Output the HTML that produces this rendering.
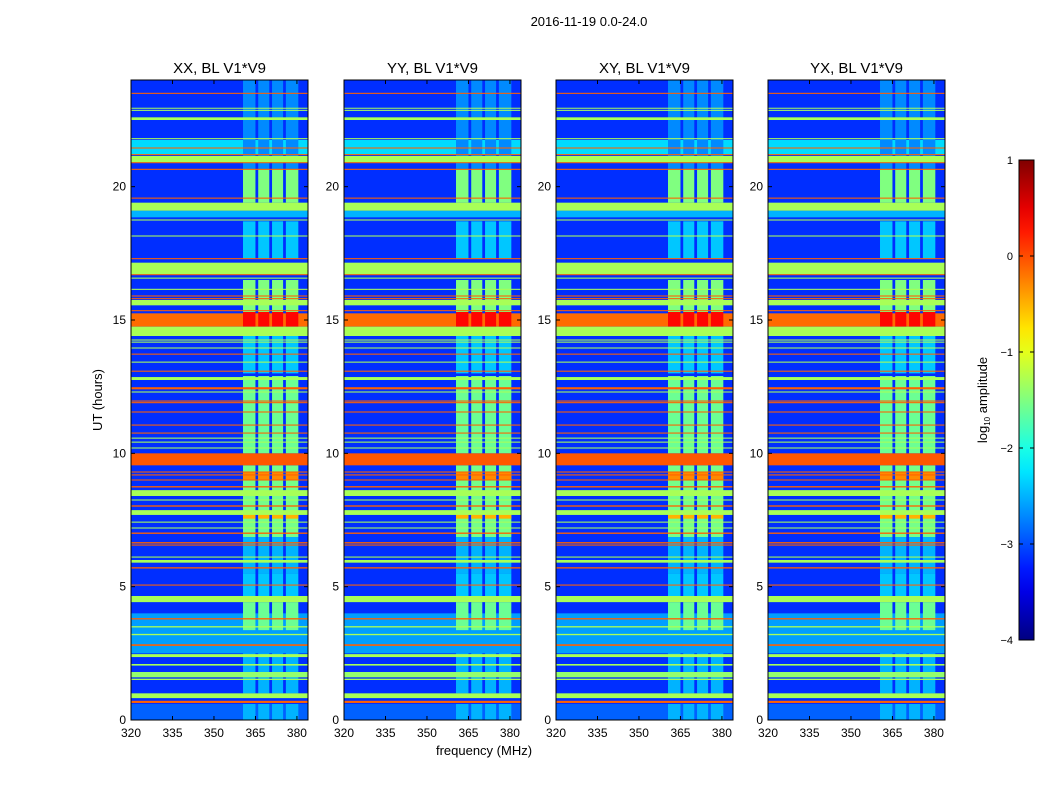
<!DOCTYPE html>
<html><head><meta charset="utf-8">
<style>
html,body{margin:0;padding:0;background:#fff;}
svg{display:block;font-family:"Liberation Sans",sans-serif;}
</style></head>
<body>
<svg id="chart" width="1050" height="800" viewBox="0 0 1050 800">
<text x="589" y="26" font-size="13" text-anchor="middle">2016-11-19 0.0-24.0</text>
<text x="484" y="755" font-size="13" text-anchor="middle">frequency (MHz)</text>
<text transform="translate(102,400) rotate(-90)" font-size="13" text-anchor="middle">UT (hours)</text>
<defs><linearGradient id="cbgrad" x1="0" y1="1" x2="0" y2="0"></linearGradient></defs>
<g id="panels"></g>
<g id="colorbar"></g>
</svg>
<script>
// ---- data (hours, MHz, log10 amplitude) ----
const panelTitles = ["XX, BL V1*V9", "YY, BL V1*V9", "XY, BL V1*V9", "YX, BL V1*V9"];
const xTicks = [320, 335, 350, 365, 380];
const yTicks = [0, 5, 10, 15, 20];
const cbTicks = [1, 0, -1, -2, -3, -4];
const backgroundLevel = -3.15;
const bandStart = [0.0,0.64,0.82,1.5,1.6,2.04,2.36,2.5,2.78,3.18,3.47,3.77,4.42,5.04,5.68,5.9,6.09,6.54,6.62,6.98,7.18,7.4,7.69,8.0,8.23,8.4,8.72,8.98,9.17,9.28,9.55,10.18,10.4,10.55,10.74,11.04,11.53,11.88,11.94,12.28,12.4,12.75,13.06,13.4,13.7,13.93,14.15,14.23,14.4,14.75,15.33,15.55,15.78,15.88,16.13,16.55,16.68,16.72,17.28,18.13,18.73,18.85,19.1,19.55,20.63,20.88,20.92,21.18,21.2,21.43,21.78,22.5,22.85,22.93,23.48];
const bandEnd   = [0.6,0.72,1.0,1.55,1.8,2.1,2.47,4.0,2.84,3.23,3.52,3.82,4.65,5.08,5.73,6.0,6.13,6.58,6.67,7.03,7.22,7.44,7.87,8.05,8.27,8.62,8.77,9.02,9.21,9.32,10.0,10.22,10.44,10.59,10.78,11.08,11.57,11.92,11.98,12.32,12.48,12.86,13.1,13.44,13.74,13.97,14.19,14.27,14.75,15.25,15.37,15.75,15.82,15.92,16.17,16.59,16.72,17.15,17.32,18.17,18.77,19.1,19.4,19.59,20.67,20.92,21.15,21.22,21.75,21.47,21.82,22.6,22.88,22.96,23.52];
const bandLevel = [-2.9,-0.1,-1.3,-1.3,-1.4,-1.3,-1.3,-2.6,-0.1,-1.3,-1.3,-0.1,-1.3,-0.1,-0.1,-1.3,-1.3,-0.1,-0.1,-0.1,-1.3,-1.3,-1.3,-0.1,-1.3,-1.3,-0.1,-0.1,-0.1,-0.1,-0.05,-1.3,-1.3,-1.3,-0.1,-0.1,-0.1,-0.1,-0.1,-1.3,-0.1,-1.3,-0.1,-1.3,-0.1,-1.3,-1.3,-1.3,-1.3,-0.15,-0.1,-1.3,-0.1,-0.1,-1.3,-1.3,-0.1,-1.3,-0.1,-1.3,-1.3,-2.5,-1.3,-0.1,-0.1,-0.1,-1.3,-0.1,-2.3,-0.1,-1.3,-1.3,-1.3,-1.3,-0.1];
const bandOnTop = [0,1,1,1,1,1,1,0,1,1,1,1,1,1,1,1,1,1,1,1,1,1,1,1,1,1,1,1,1,1,1,1,1,1,1,1,1,1,1,1,1,1,1,1,1,1,1,1,1,0,1,1,1,1,1,1,1,1,1,1,1,0,1,1,1,1,1,1,0,1,1,1,1,1,1];
const chanLo = [360.5, 366, 371, 376];
const chanHi = [365, 370, 375, 380.5];
const boostStart = [0,1.0,3.37,4.65,5.5,6.86,7.55,9.0,10.0,13.0,14.75,15.3,17.3,19.4,20.65];
const boostEnd   = [0.6,2.5,4.42,5.5,6.86,9.55,7.75,9.3,12.9,14.4,15.3,16.5,18.7,20.65,24];
const boostLevel = [-2.5,-2.5,-1.6,-2.4,-2.5,-1.55,-0.5,-0.3,-1.6,-2.4,0.35,-1.5,-2.4,-1.5,-2.7];

// ---- helpers ----
const NS = "http://www.w3.org/2000/svg";
function jet(v){
  const t = Math.max(0, Math.min(1, (v + 4) / 5));
  const c = x => Math.round(255 * Math.max(0, Math.min(1, x)));
  return `rgb(${c(1.5-Math.abs(4*t-3))},${c(1.5-Math.abs(4*t-2))},${c(1.5-Math.abs(4*t-1))})`;
}
function mk(tag, attrs, parent){
  const e = document.createElementNS(NS, tag);
  for (const k in attrs) e.setAttribute(k, attrs[k]);
  parent.appendChild(e); return e;
}
const panelLefts = [131, 344, 556, 768];
const pw = 177, axTop = 80, axBottom = 720;
const fMin = 320, fMax = 384, hMax = 24;
const panelsG = document.getElementById("panels");

panelLefts.forEach((left, p) => {
  const xs = f => left + (f - fMin) / (fMax - fMin) * pw;
  const ys = h => axBottom - h / hMax * (axBottom - axTop);
  const g = mk("g", {}, panelsG);
  
  
  const bg = mk("rect", {x: left, y: axTop, width: pw, height: axBottom - axTop, fill: jet(backgroundLevel)}, g);
  
  
  const drawBands = onTop => {
    for (let i = 0; i < bandStart.length; i++) {
      if (bandOnTop[i] !== onTop) continue;
      const r = mk("rect", {x: left, y: ys(bandEnd[i]), width: pw, height: Math.max(1, ys(bandStart[i]) - ys(bandEnd[i])), fill: jet(bandLevel[i])}, g);
      
      
    }
  };
  drawBands(0);
  for (let i = 0; i < boostStart.length; i++) {
    for (let c = 0; c < chanLo.length; c++) {
      const r = mk("rect", {x: xs(chanLo[c]), y: ys(boostEnd[i]), width: xs(chanHi[c]) - xs(chanLo[c]), height: ys(boostStart[i]) - ys(boostEnd[i]), fill: jet(boostLevel[i])}, g);
      
      
    }
  }
  drawBands(1);
  const frame = mk("rect", {x: left, y: axTop, width: pw, height: axBottom - axTop, fill: "none", stroke: "#000", "stroke-width": 1}, g);
  
  
  const t = mk("text", {x: left + pw / 2, y: 73, "font-size": 15, "text-anchor": "middle"}, g);
  t.textContent = panelTitles[p];
  
  
  xTicks.forEach(f => {
    const x = xs(f);
    mk("line", {x1: x, x2: x, y1: axBottom, y2: axBottom - 4, stroke: "#000"}, g);
    mk("line", {x1: x, x2: x, y1: axTop, y2: axTop + 4, stroke: "#000"}, g);
    const l = mk("text", {x: x, y: axBottom + 17, "font-size": 12, "text-anchor": "middle"}, g);
    l.textContent = f;
    
    
  });
  yTicks.forEach(h => {
    const y = ys(h);
    mk("line", {x1: left, x2: left + 4, y1: y, y2: y, stroke: "#000"}, g);
    mk("line", {x1: left + pw, x2: left + pw - 4, y1: y, y2: y, stroke: "#000"}, g);
    const l = mk("text", {x: left - 5, y: y + 4, "font-size": 12, "text-anchor": "end"}, g);
    l.textContent = h;
    
    
  });
});

// colorbar
const grad = document.getElementById("cbgrad");
for (let i = 0; i <= 20; i++) {
  const v = -4 + 5 * i / 20;
  mk("stop", {offset: (i / 20), "stop-color": jet(v)}, grad);
}
const cb = document.getElementById("colorbar");
const cbx = 1019, cbw = 15, cbTop = 160, cbBot = 640;
const cy = v => cbBot - (v + 4) / 5 * (cbBot - cbTop);
mk("rect", {x: cbx, y: cbTop, width: cbw, height: cbBot - cbTop, fill: "url(#cbgrad)", stroke: "#000"}, cb);
cbTicks.forEach(v => {
  mk("line", {x1: cbx, x2: cbx + 4, y1: cy(v), y2: cy(v), stroke: "#000"}, cb);
  mk("line", {x1: cbx + cbw, x2: cbx + cbw - 4, y1: cy(v), y2: cy(v), stroke: "#000"}, cb);
  const l = mk("text", {x: 1013, y: cy(v) + 4, "font-size": 11, "text-anchor": "end"}, cb);
  l.textContent = v < 0 ? "\u2212" + (-v) : v;
  
  
});
const cl = mk("text", {transform: "translate(987,400) rotate(-90)", "font-size": 13, "text-anchor": "middle"}, cb);
cl.innerHTML = 'log<tspan font-size="8" dy="3">10</tspan><tspan dy="-3"> amplitude</tspan>';


</script>
</body></html>
